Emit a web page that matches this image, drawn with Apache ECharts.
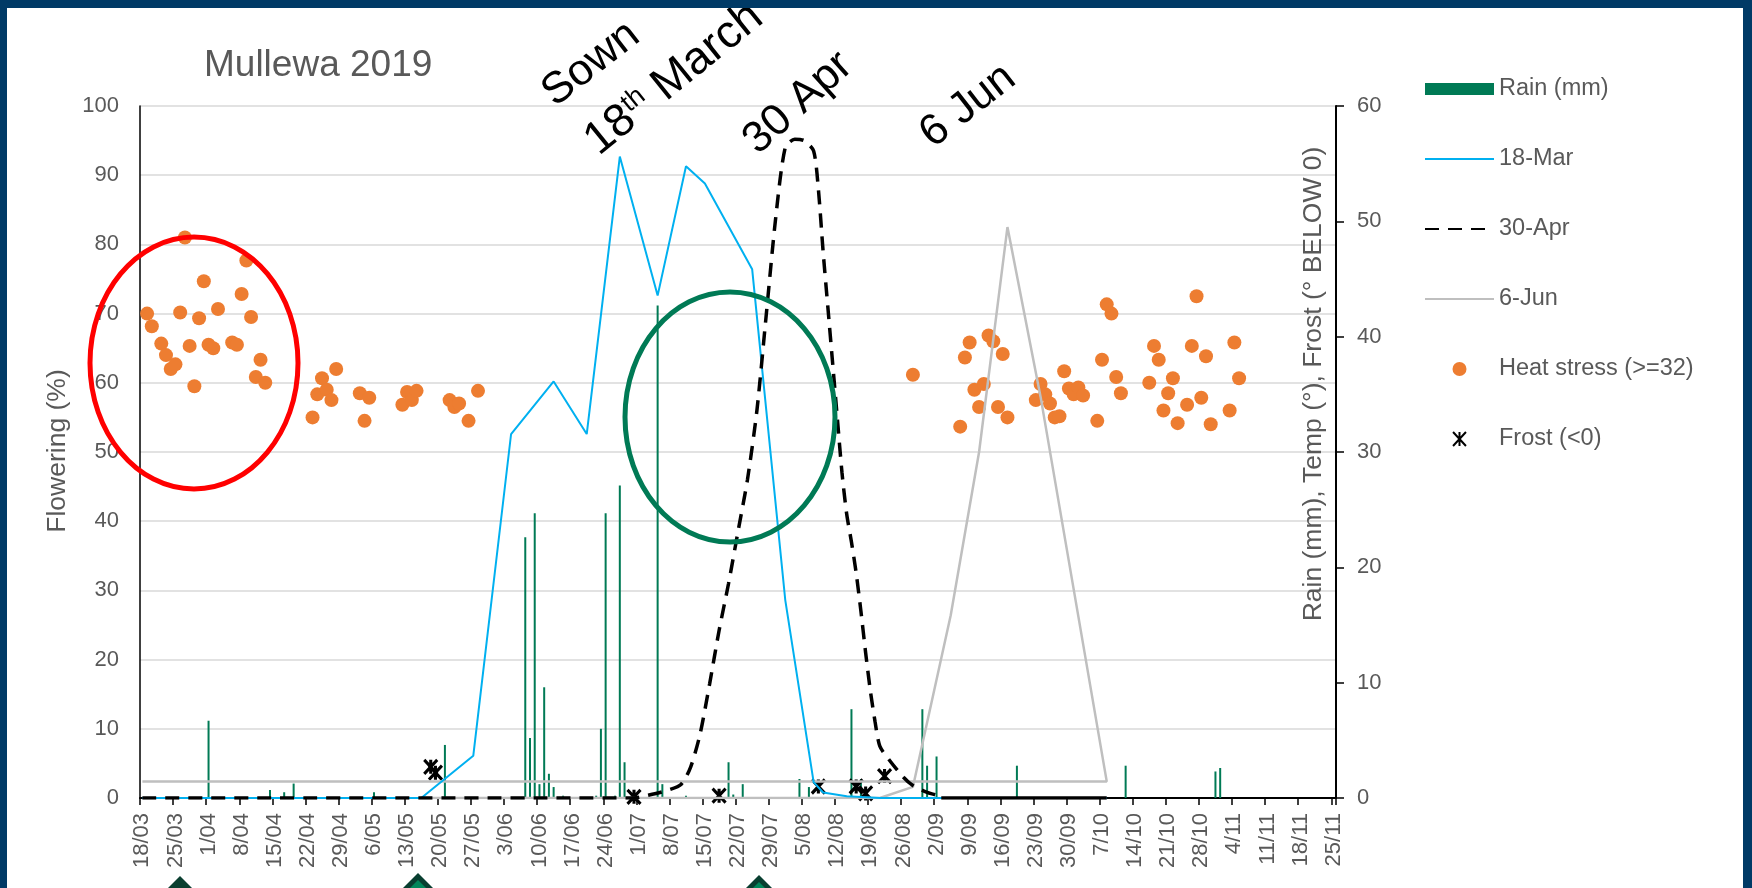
<!DOCTYPE html>
<html>
<head>
<meta charset="utf-8">
<script src="https://cdn.jsdelivr.net/npm/echarts@6/dist/echarts.min.js"></script>
<style>
html,body{margin:0;padding:0;background:#fff;}
#c{width:1752px;height:888px;}
</style>
</head>
<body>
<div id="c"></div>
<script>
// ---------- DATA (day index 0 = 18/03/2019) ----------
const tickLabels = ['18/03','25/03','1/04','8/04','15/04','22/04','29/04','6/05','13/05','20/05','27/05','3/06','10/06','17/06','24/06','1/07','8/07','15/07','22/07','29/07','5/08','12/08','19/08','26/08','2/09','9/09','16/09','23/09','30/09','7/10','14/10','21/10','28/10','4/11','11/11','18/11','25/11'];

const rainDays = [14,27,30,32,49,64,81,82,83,84,85,86,87,89,96,97,98,100,101,102,109,110,115,124,125,127,139,141,150,152,165,166,168,185,208,227,228];
const rainMm   = [6.7,0.7,0.5,1.25,0.5,4.6,22.6,5.2,24.7,1.2,9.6,2.1,0.95,0.2,0.2,6.0,24.7,0.2,27.1,3.1,42.7,1.2,0.2,3.1,0.3,1.2,1.65,0.95,7.7,1.65,7.7,2.8,3.6,2.8,2.8,2.3,2.6];

const mar18Days   = [0,59,70,78,87,94,101,109,115,119,129,136,142,144,149,156,204];
const mar18Flower = [0,0,6.1,52.6,60.2,52.6,92.7,72.6,91.3,88.8,76.4,28.6,2.3,0.8,0.25,0,0];

const apr30Days   = [0,104,107,111,114,116,118,120,122,124,126,128,130,132,134,136,138,140,142,143,144,145,146,147,148,149,150,151,152,153,154,155,156,158,161,163,166,168,169];
const apr30Flower = [0,0,0.4,1.1,2.0,4.5,9.3,16.5,24.2,31,38.5,46,56,70,84,94,95.2,95,93.5,88,79,71,63,55,47,41,37,32.5,27,21,15.5,11,7.5,5.5,3.0,1.8,0.8,0.4,0];
const apr30TailDays   = [169,204];
const apr30TailFlower = [0,0];

const jun6Days   = [59,156,163,171,177,183,190,204,0];
const jun6Flower = [0,0,1.6,26.4,50,82.5,58,2.4,2.4];

const heatDays = [1,2,4,5,6,7,8,9,10,11,12,13,14,15,16,19,20,21,22,23,24,25,26,
  36,37,38,39,40,41,46,47,48,55,56,57,58,65,66,67,69,71,
  163,173,174,175,176,177,178,179,180,181,182,183,
  189,190,191,192,193,194,195,196,197,198,199,
  202,203,204,205,206,207,213,214,215,216,217,218,219,
  221,222,223,224,225,226,230,231,232];
const heatTemp = [42.0,40.9,39.4,38.4,37.2,37.6,42.1,48.6,39.2,35.7,41.6,44.8,39.3,39.0,42.4,39.5,39.3,43.7,46.6,41.7,36.5,38.0,36.0,
  33.0,35.0,36.4,35.4,34.5,37.2,35.1,32.7,34.7,34.1,35.2,34.5,35.3,34.5,33.9,34.2,32.7,35.3,
  36.7,32.2,38.2,39.5,35.4,33.9,35.9,40.1,39.6,33.9,38.5,33.0,
  34.5,35.9,35.0,34.2,33.0,33.1,37.0,35.5,35.0,35.6,34.9,
  32.7,38.0,42.8,42.0,36.5,35.1,36.0,39.2,38.0,33.6,35.1,36.4,32.5,
  34.1,39.2,43.5,34.7,38.3,32.4,33.6,39.5,36.4];

const frostDays   = [61,62,104,122,143,151,153,157];
const frostBelow0 = [2.7,2.2,0.1,0.2,1.0,1.0,0.4,1.9];

// ---------- BUILD ----------
const FONT = "'Liberation Sans', Arial, sans-serif";
const GREY_TXT = '#595959';
const zip = (xs, ys) => xs.map((x, i) => [x, ys[i]]);
const dayCategories = Array.from({length: 253}, (_, i) => String(i));

const chart = echarts.init(document.getElementById('c'), null, {renderer: 'canvas'});

function txt(x, y, text, size, color, rot, extra) {
  return Object.assign({
    type: 'text', x: x, y: y, rotation: rot || 0, z: 100,
    style: {
      text: text, x: 0, y: 0, fontSize: size, fontFamily: FONT, fill: color,
      align: 'center', verticalAlign: 'middle', textAlign: 'center', textVerticalAlign: 'middle'
    }
  }, extra || {});
}
const R = Math.PI / 180;
const hideSym = {opacity: 0};

const option = {
  animation: false,
  backgroundColor: '#ffffff',
  textStyle: {fontFamily: FONT},
  grid: {left: 140, right: 416, top: 106, bottom: 90, containLabel: false},
  legend: {
    orient: 'vertical', left: 1424, top: 75, padding: 0,
    itemWidth: 69, itemHeight: 14, itemGap: 42,
    textStyle: {color: GREY_TXT, fontSize: 23.5, fontFamily: FONT, lineHeight: 28},
    data: [
      {name: 'Rain (mm)', icon: 'path://M0,0H69V12H0Z'},
      {name: '18-Mar', itemStyle: hideSym},
      {name: '30-Apr', itemStyle: hideSym},
      {name: '6-Jun', itemStyle: hideSym},
      'Heat stress (>=32)', 'Frost (<0)'
    ]
  },
  xAxis: {
    type: 'category', data: dayCategories, boundaryGap: true,
    axisLine: {lineStyle: {color: '#000', width: 2}},
    axisTick: {show: true, interval: 6, length: 7, lineStyle: {color: '#000', width: 1.5}},
    axisLabel: {
      interval: 6, rotate: 90, color: GREY_TXT, fontSize: 22, margin: 15, fontFamily: FONT,
      formatter: (v, i) => (tickLabels[i / 7] !== undefined ? tickLabels[i / 7] : '')
    },
    splitLine: {show: false}
  },
  yAxis: [
    {
      type: 'value', min: 0, max: 100, interval: 10, position: 'left',
      axisLine: {show: true, lineStyle: {color: '#000', width: 1.5}},
      axisTick: {show: false},
      axisLabel: {color: GREY_TXT, fontSize: 22, margin: 21, fontFamily: FONT},
      splitLine: {show: true, lineStyle: {color: '#D9D9D9', width: 1.5}}
    },
    {
      type: 'value', min: 0, max: 60, interval: 10, position: 'right',
      axisLine: {show: true, lineStyle: {color: '#000', width: 2}},
      axisTick: {show: true, length: 8, lineStyle: {color: '#000', width: 1.5}},
      axisLabel: {color: GREY_TXT, fontSize: 22, margin: 21, fontFamily: FONT},
      splitLine: {show: false}
    }
  ],
  series: [
    {
      name: 'Rain (mm)', type: 'bar', yAxisIndex: 1, barWidth: 2,
      itemStyle: {color: '#007A55'},
      data: zip(rainDays, rainMm)
    },
    {
      name: '6-Jun', type: 'line', yAxisIndex: 0, symbol: 'none',
      lineStyle: {color: '#BFBFBF', width: 2.5}, itemStyle: {color: '#BFBFBF'},
      data: zip(jun6Days, jun6Flower)
    },
    {
      name: '18-Mar', type: 'line', yAxisIndex: 0, symbol: 'none',
      lineStyle: {color: '#00B0F0', width: 2}, itemStyle: {color: '#00B0F0'},
      data: zip(mar18Days, mar18Flower)
    },
    {
      name: '30-Apr', type: 'line', yAxisIndex: 0, symbol: 'none', smooth: 0.25,
      lineStyle: {color: '#000', width: 3.5, type: [14, 9]}, itemStyle: {color: '#000'},
      data: zip(apr30Days, apr30Flower)
    },
    {
      name: '30-Apr', type: 'line', yAxisIndex: 0, symbol: 'none',
      lineStyle: {color: '#000', width: 3.5}, itemStyle: {color: '#000'},
      data: zip(apr30TailDays, apr30TailFlower)
    },
    {
      name: 'Heat stress (>=32)', type: 'scatter', yAxisIndex: 1, symbol: 'circle', symbolSize: 14,
      itemStyle: {color: '#ED7D31', opacity: 1},
      data: zip(heatDays, heatTemp)
    },
    {
      name: 'Frost (<0)', type: 'scatter', yAxisIndex: 1,
      symbol: 'path://M0,0L12,13M12,0L0,13M6,0L6,13', symbolSize: [13, 14], symbolKeepAspect: false,
      itemStyle: {color: 'none', borderColor: '#000', borderWidth: 3.2, opacity: 1},
      data: zip(frostDays, frostBelow0)
    }
  ],
  graphic: [
    // frame
    {type: 'rect', z: 200, shape: {x: 0, y: 0, width: 1752, height: 8}, style: {fill: '#003A66'}},
    {type: 'rect', z: 200, shape: {x: 0, y: 0, width: 7, height: 888}, style: {fill: '#003A66'}},
    {type: 'rect', z: 200, shape: {x: 1743, y: 0, width: 9, height: 888}, style: {fill: '#003A66'}},
    // triangles at the bottom
    {type: 'polygon', z: 100, shape: {points: [[180, 876], [155, 901], [205, 901]]}, style: {fill: '#0A3F30'}},
    {type: 'polygon', z: 100, shape: {points: [[418, 873], [391, 900], [445, 900]]}, style: {fill: '#083F30'}},
    {type: 'polygon', z: 101, shape: {points: [[418, 880], [397, 901], [439, 901]]}, style: {fill: '#00875A'}},
    {type: 'polygon', z: 100, shape: {points: [[759, 875], [732, 902], [786, 902]]}, style: {fill: '#083F30'}},
    {type: 'polygon', z: 101, shape: {points: [[759, 882], [738, 903], [780, 903]]}, style: {fill: '#00875A'}},
    // ellipses
    {type: 'ellipse', z: 100, shape: {cx: 194, cy: 363, rx: 104, ry: 126}, style: {fill: 'none', stroke: '#FF0000', lineWidth: 5}},
    {type: 'ellipse', z: 100, shape: {cx: 730, cy: 417, rx: 105, ry: 125}, style: {fill: 'none', stroke: '#007A55', lineWidth: 5}},
    // title
    {type: 'text', z: 100, x: 204, y: 66, style: {text: 'Mullewa 2019', x: 0, y: 0, fontSize: 37, fontFamily: FONT, fill: GREY_TXT, align: 'left', verticalAlign: 'middle', textAlign: 'left', textVerticalAlign: 'middle'}},
    // axis titles
    txt(58, 451, 'Flowering (%)', 26.5, GREY_TXT, Math.PI / 2),
    txt(1314, 384, 'Rain (mm), Temp (°), Frost (° BELOW 0)', 26.5, GREY_TXT, Math.PI / 2),
    // annotations
    txt(591, 64, 'Sown', 44, '#000', 38 * R),
    {
      type: 'text', x: 674, y: 79, rotation: 39 * R, z: 100,
      style: {
        text: '18{s|th} March', x: 0, y: 0, fontSize: 46, fontFamily: FONT, fill: '#000',
        align: 'center', verticalAlign: 'middle', textAlign: 'center', textVerticalAlign: 'middle',
        rich: {s: {fontSize: 27, fontFamily: FONT, fill: '#000', verticalAlign: 'top'}}
      }
    },
    txt(798, 103, '30 Apr', 44, '#000', 42 * R),
    txt(968, 106, '6 Jun', 44, '#000', 38 * R)
  ]
};
chart.setOption(option);
</script>
</body>
</html>
